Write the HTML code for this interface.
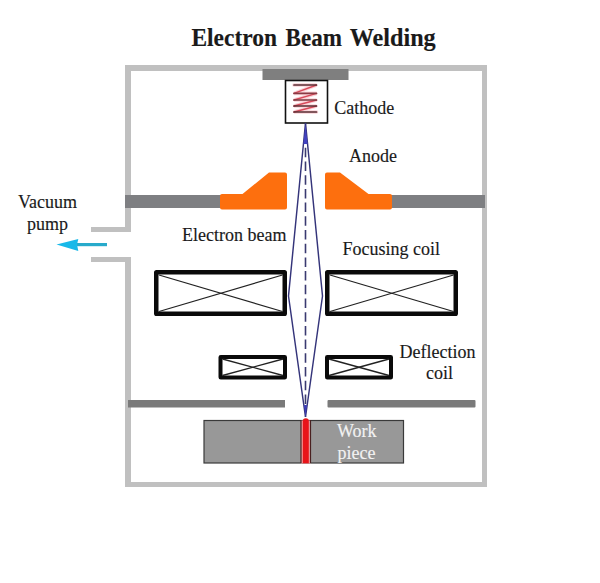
<!DOCTYPE html>
<html><head><meta charset="utf-8">
<style>
html,body{margin:0;padding:0;background:#fff;}
svg{display:block;}
text{font-family:"Liberation Serif",serif;fill:#1a1a1a;stroke:#1a1a1a;stroke-width:0.15px;}
</style></head>
<body>
<svg width="600" height="583" viewBox="0 0 600 583">
<rect x="0" y="0" width="600" height="583" fill="#fff"/>
<!-- title -->
<g font-size="24.2" font-weight="bold" style="fill:#111;stroke:#111;stroke-width:0.2px">
<text x="191.4" y="45.6" textLength="85.6" lengthAdjust="spacingAndGlyphs">Electron</text>
<text x="285.6" y="45.6" textLength="56.4" lengthAdjust="spacingAndGlyphs">Beam</text>
<text x="349.7" y="45.6" textLength="86" lengthAdjust="spacingAndGlyphs">Welding</text>
</g>
<!-- chamber walls -->
<g fill="#c0c0c0">
  <rect x="125" y="65" width="362" height="6"/>
  <rect x="482" y="65" width="5" height="422"/>
  <rect x="125" y="482" width="362" height="5"/>
  <rect x="125" y="65" width="6" height="167"/>
  <rect x="125" y="257" width="6" height="230"/>
  <rect x="91" y="227" width="40" height="5"/>
  <rect x="91" y="257" width="40" height="5"/>
</g>
<!-- vacuum arrow -->
<rect x="74" y="243" width="33" height="3.2" fill="#28aacb"/>
<polygon points="56.5,244.6 78.3,239 77,244.6 78.3,251" fill="#18b9e9"/>
<!-- cathode mount -->
<rect x="262.5" y="69" width="86" height="11" fill="#7f7f7f"/>
<rect x="285.5" y="80.5" width="42" height="42.5" fill="#fff" stroke="#111" stroke-width="1.6"/>
<!-- spring -->
<g fill="none" stroke-linecap="round">
  <polyline points="294,85 316.5,85 294,93.4 316.5,93.4 294,100 316.5,100 294,106 316.5,106 294,112 316.5,112" stroke="#f6b8c0" stroke-width="3.6" opacity="0.6"/>
  <g stroke="#d84a5a" stroke-width="1.4">
    <line x1="316.5" y1="85" x2="294" y2="93.4"/>
    <line x1="316.5" y1="93.4" x2="294" y2="100"/>
    <line x1="316.5" y1="100" x2="294" y2="106"/>
    <line x1="316.5" y1="106" x2="294" y2="112"/>
  </g>
  <g stroke="#5a2c32" stroke-width="1.7">
    <line x1="294" y1="85" x2="316.5" y2="85"/>
    <line x1="294" y1="93.4" x2="316.5" y2="93.4" stroke="#8a3a44"/>
    <line x1="294" y1="100" x2="316.5" y2="100" stroke="#7a3a40"/>
    <line x1="294" y1="106" x2="316.5" y2="106"/>
    <line x1="294" y1="112" x2="316.5" y2="112"/>
  </g>
</g>
<!-- anodes -->
<rect x="125" y="195" width="97" height="13" fill="#7e7f82"/>
<rect x="390" y="195" width="95" height="13" fill="#7e7f82"/>
<path d="M222,194 L242.5,194 L269,172.5 L285,172.5 Q287,172.5 287,174.5 L287,207.5 Q287,209.5 285,209.5 L222,209.5 Q220,209.5 220,207.5 L220,196 Q220,194 222,194 Z" fill="#fd6f0e"/>
<path d="M327,172.5 L340,172.5 L368.5,194 L390,194 Q392,194 392,196 L392,207.5 Q392,209.5 390,209.5 L327,209.5 Q325,209.5 325,207.5 L325,174.5 Q325,172.5 327,172.5 Z" fill="#fd6f0e"/>
<!-- beam -->
<g stroke="#34347a" stroke-width="1.45" fill="none">
  <polyline points="305.5,123 288.5,296 305.5,417"/>
  <polyline points="305.5,123 322.5,296 305.5,417"/>
</g>
<polygon points="305.5,124 307.6,144 303.4,144" fill="#4242c0"/>
<polygon points="304,405 307,405 305.5,417" fill="#3c3cb8"/>
<line x1="305.5" y1="147.8" x2="305.5" y2="404" stroke="#3a3a70" stroke-width="1.6" stroke-dasharray="9.5,4.2"/>
<!-- focusing coils -->
<g stroke="#0a0a0a" fill="none">
  <rect x="156.25" y="272.25" width="128.5" height="41.5" stroke-width="4.5" rx="0.3"/>
  <rect x="327.25" y="272.25" width="128.5" height="41.5" stroke-width="4.5" rx="0.3"/>
  <rect x="220.5" y="357" width="64.5" height="20.5" stroke-width="4" rx="0.3"/>
  <rect x="327" y="357" width="64" height="20.5" stroke-width="4" rx="0.3"/>
</g>
<g stroke="#222" stroke-width="1.3" fill="none">
  <line x1="159" y1="275" x2="282.5" y2="311.5"/>
  <line x1="159" y1="311.5" x2="282.5" y2="275"/>
  <line x1="330" y1="275" x2="453.5" y2="311.5"/>
  <line x1="330" y1="311.5" x2="453.5" y2="275"/>
  <line x1="222.5" y1="359" x2="283" y2="375.5"/>
  <line x1="222.5" y1="375.5" x2="283" y2="359"/>
  <line x1="329" y1="359" x2="389" y2="375.5"/>
  <line x1="329" y1="375.5" x2="389" y2="359"/>
</g>
<!-- baffles -->
<rect x="128" y="400" width="157" height="7.5" fill="#7a7a7a"/>
<rect x="327.5" y="400" width="148" height="7.5" rx="1" fill="#7a7a7a"/>
<!-- workpiece -->
<rect x="204" y="420.5" width="199.5" height="42.5" fill="#989898" stroke="#3a3a3a" stroke-width="1.2"/>
<rect x="301" y="420.5" width="9.5" height="43" fill="#f4a0a0"/>
<line x1="301" y1="420" x2="301" y2="463" stroke="#4a2020" stroke-width="1.2"/>
<line x1="310.5" y1="420" x2="310.5" y2="463" stroke="#4a2020" stroke-width="1.2"/>
<path d="M302.8,463.2 L302.8,421 Q302.8,418.2 305.8,418.2 Q308.8,418.2 308.8,421 L308.8,463.2 Z" fill="#e8141a"/>
<!-- labels -->
<text x="334.3" y="114" font-size="18">Cathode</text>
<text x="349" y="162.4" font-size="18">Anode</text>
<text x="47.6" y="208.4" font-size="18" text-anchor="middle">Vacuum</text>
<text x="47.6" y="230.4" font-size="18" text-anchor="middle">pump</text>
<text x="182" y="241" font-size="18">Electron beam</text>
<text x="342.5" y="254.6" font-size="18">Focusing coil</text>
<text x="437.5" y="357.6" font-size="18" text-anchor="middle">Deflection</text>
<text x="439.6" y="379.3" font-size="18" text-anchor="middle">coil</text>
<text x="337" y="437" font-size="18" fill="#f2f2f2" style="fill:#f2f2f2;stroke:#f2f2f2">Work</text>
<text x="337.5" y="459" font-size="18" style="fill:#f2f2f2;stroke:#f2f2f2">piece</text>
</svg>
</body></html>
